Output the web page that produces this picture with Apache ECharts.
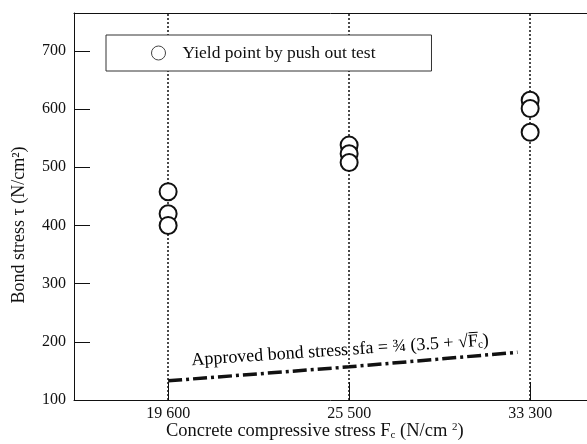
<!DOCTYPE html>
<html>
<head>
<meta charset="utf-8">
<script src="https://cdn.jsdelivr.net/npm/echarts@6/dist/echarts.min.js"></script>
<style>
html,body{margin:0;padding:0;background:#fff;}
#c{width:587px;height:444px;}
</style>
</head>
<body>
<div id="c"></div>
<script>
var categories = ['19 600', '25 500', '33 300'];
var categoryIndex = [0, 1, 2];
var yield19600 = [458, 420, 400];
var yield25500 = [538, 523, 508];
var yield33300 = [615, 601, 560];
var approvedX = [0, 1, 1.93];
var approvedY = [133, 157, 182];
var annotationPoint = [0.95, 185];
var yTicks = [100, 200, 300, 400, 500, 600, 700];

var SERIF = 'Liberation Serif';
var INK = '#111';

var yieldGroups = [yield19600, yield25500, yield33300];
var scatterData = [];
yieldGroups.forEach(function (g, i) {
  g.forEach(function (v) { scatterData.push([categoryIndex[i], v]); });
});
var lineData = approvedX.map(function (x, i) { return [x, approvedY[i]]; });

var chart = echarts.init(document.getElementById('c'));
chart.setOption({
  animation: false,
  backgroundColor: '#fff',
  grid: { left: 74, top: 13, bottom: 44, right: 0, show: false },
  legend: {
    data: ['Yield point by push out test'],
    left: 106, top: 35, z: 10,
    padding: [9, 56, 9, 45],
    itemWidth: 38, itemHeight: 14,
    backgroundColor: '#fff',
    borderColor: '#333', borderWidth: 1,
    itemStyle: { color: '#fff', borderColor: '#444', borderWidth: 1 },
    textStyle: { fontFamily: SERIF, fontSize: 17.5, color: INK }
  },
  title: [{
    text: 'Concrete compressive stress F{sub|c} (N/cm {sup|2})',
    left: 166, top: 422, padding: 0,
    textStyle: {
      fontFamily: SERIF, fontSize: 18.5, fontWeight: 'normal', color: INK,
      rich: {
        sub: { fontFamily: SERIF, fontSize: 11, verticalAlign: 'bottom', padding: [7, 0, 0, 0], color: INK },
        sup: { fontFamily: SERIF, fontSize: 11, verticalAlign: 'top', padding: [0, 0, 7, 0], color: INK }
      }
    }
  }],
  graphic: [{
    type: 'text',
    x: 19, y: 225, rotation: Math.PI / 2,
    style: {
      text: 'Bond stress \u03c4 (N/cm\u00b2)',
      font: '18px "Liberation Serif"', fill: INK,
      align: 'center', verticalAlign: 'middle'
    }
  }],
  xAxis: [{
    type: 'value', min: -0.52, max: 2.314, position: 'bottom',
    splitLine: { show: false },
    axisLine: { show: true, onZero: false, lineStyle: { color: INK, width: 1 } },
    axisTick: { show: true, inside: true, length: 18, customValues: categoryIndex, lineStyle: { color: INK, width: 1 } },
    axisLabel: {
      customValues: categoryIndex,
      formatter: function (v) { return categories[Math.round(v)]; },
      fontFamily: SERIF, fontSize: 16, color: INK, margin: 6
    }
  }, {
    type: 'value', min: -0.52, max: 2.314, position: 'top',
    splitLine: { show: false },
    axisLine: { show: true, onZero: false, lineStyle: { color: INK, width: 1 } },
    axisTick: { show: false },
    axisLabel: { show: false }
  }],
  yAxis: {
    type: 'value', min: 100, max: 765, interval: 100,
    splitLine: { show: false },
    axisLine: { show: true, onZero: false, lineStyle: { color: INK, width: 1 } },
    axisTick: { show: true, inside: true, length: 16, lineStyle: { color: INK, width: 1 } },
    axisLabel: {
      showMaxLabel: false,
      formatter: function (v) { return yTicks.indexOf(v) >= 0 ? String(v) : ''; },
      fontFamily: SERIF, fontSize: 16, color: INK, margin: 8
    }
  },
  series: [
    {
      type: 'line', name: 'guides', data: [], z: 1, silent: true,
      markLine: {
        silent: true, symbol: 'none', animation: false,
        label: { show: false },
        lineStyle: { color: INK, type: [2, 2], width: 1.5 },
        data: categoryIndex.map(function (i) { return { xAxis: i }; })
      }
    },
    {
      type: 'line', name: 'Approved bond stress', data: lineData, z: 3,
      showSymbol: false, symbol: 'none',
      lineStyle: { color: INK, width: 3.5, type: [14, 4, 3, 4] }
    },
    {
      type: 'scatter', name: 'annotation', data: [annotationPoint], z: 4,
      symbol: 'circle', symbolSize: 0, silent: true,
      itemStyle: { color: '#000', opacity: 1 },
      label: {
        show: true, position: 'inside', rotate: 3.8,
        formatter: 'Approved bond stress sfa = \u00be (3.5 + \u221aF\u0305{sub|c})',
        fontFamily: SERIF, fontSize: 18, color: '#000', textBorderWidth: 0,
        rich: { sub: { fontFamily: SERIF, fontSize: 11, verticalAlign: 'bottom', padding: [6, 0, 0, 0], color: '#000' } }
      }
    },
    {
      type: 'scatter', name: 'Yield point by push out test', data: scatterData, z: 5,
      symbol: 'circle', symbolSize: 17,
      itemStyle: { color: '#fff', borderColor: INK, borderWidth: 2, opacity: 1 }
    }
  ]
});
</script>
</body>
</html>
